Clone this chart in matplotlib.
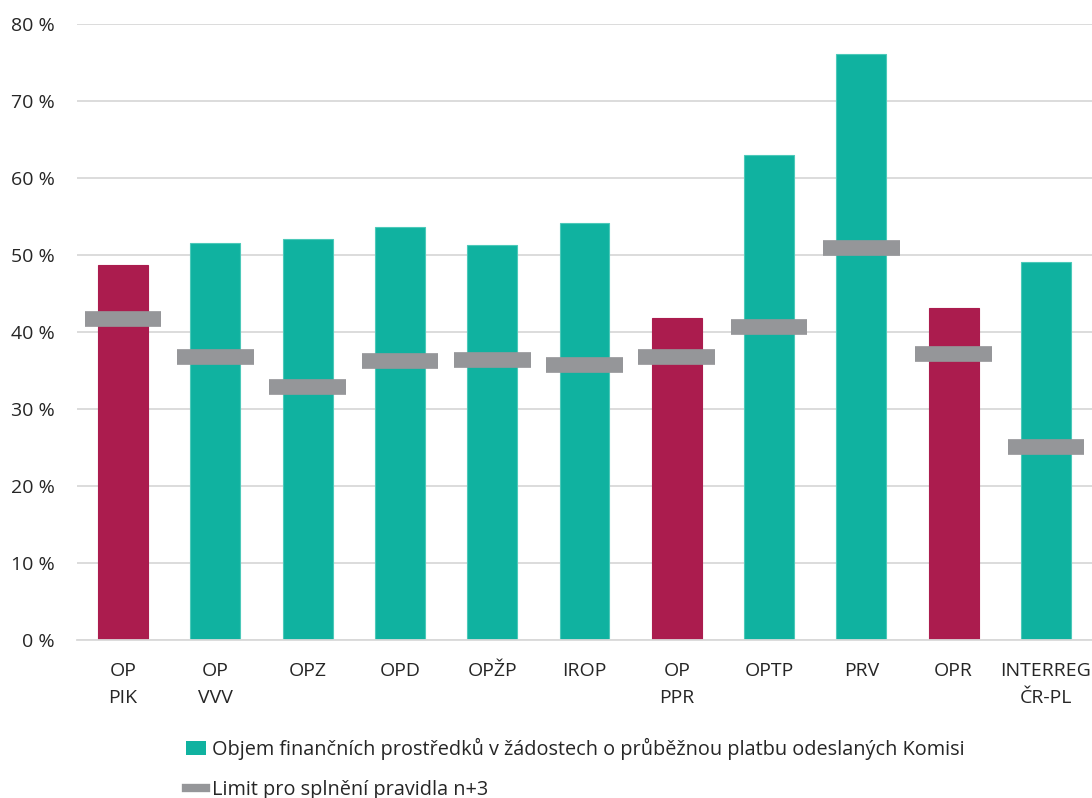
import matplotlib
matplotlib.use('Agg')
import matplotlib.pyplot as plt
from matplotlib.patches import Patch
from matplotlib.lines import Line2D
import numpy as np

plt.rcParams['font.family'] = ['Open Sans', 'DejaVu Sans']

programy = ["OP\nPIK", "OP\nVVV", "OPZ", "OPD", "OPŽP", "IROP", "OP\nPPR", "OPTP", "PRV", "OPR", "INTERREG\nČR-PL"]
objem = [48.6, 51.5, 52.0, 53.6, 51.2, 54.1, 41.8, 62.9, 76.0, 43.1, 49.0]
limit = [41.7, 36.7, 32.8, 36.2, 36.3, 35.7, 36.7, 40.6, 50.9, 37.1, 25.1]
pod_limitem = ["OP\nPIK", "OP\nPPR", "OPR"]   # cervene sloupce

zelena = "#10B2A0"
cervena = "#AB1C4E"
seda = "#959699"

barvy = [cervena if p in pod_limitem else zelena for p in programy]
okraje = [cervena if p in pod_limitem else "#4CC9B9" for p in programy]
x = np.arange(len(programy))

fig = plt.figure(figsize=(10.92, 7.98), dpi=100)
ax = fig.add_axes([0.0705, 0.198, 0.9295, 0.7725])

ax.bar(x, objem, width=0.54, color=barvy, edgecolor=okraje, linewidth=0.8, zorder=2)
ax.hlines(limit, x - 0.415, x + 0.415, colors=seda, linewidth=11.3, zorder=3)

ax.set_xlim(-0.5, len(programy) - 0.5)
ax.set_ylim(0, 80)
ax.set_yticks(np.arange(0, 81, 10))
ax.set_yticklabels([f"{v} %" for v in range(0, 81, 10)])
ax.set_xticks(x)
ax.set_xticklabels(programy, linespacing=1.6)
ax.tick_params(axis='both', length=0, labelsize=14, colors="#262626")
ax.tick_params(axis='y', pad=16)
ax.tick_params(axis='x', pad=16)

ax.grid(axis='y', color="#D9D9D9", linewidth=1.3, zorder=0)
for s in ["top", "right", "left"]:
    ax.spines[s].set_visible(False)
ax.spines["bottom"].set_color("#D9D9D9")
ax.spines["bottom"].set_linewidth(1.3)

handles = [Patch(facecolor=zelena, edgecolor='none'),
           Line2D([0], [0], color=seda, linewidth=6)]
labels = ["Objem finančních prostředků v žádostech o průběžnou platbu odeslaných Komisi",
          "Limit pro splnění pravidla n+3"]
fig.legend(handles, labels, loc='upper left', bbox_to_anchor=(0.163, 0.085), frameon=False,
           fontsize=14.3, handlelength=1.0, handletextpad=0.3, labelspacing=1.0,
           borderaxespad=0, labelcolor="#262626")

fig.savefig("out.png", dpi=100)
